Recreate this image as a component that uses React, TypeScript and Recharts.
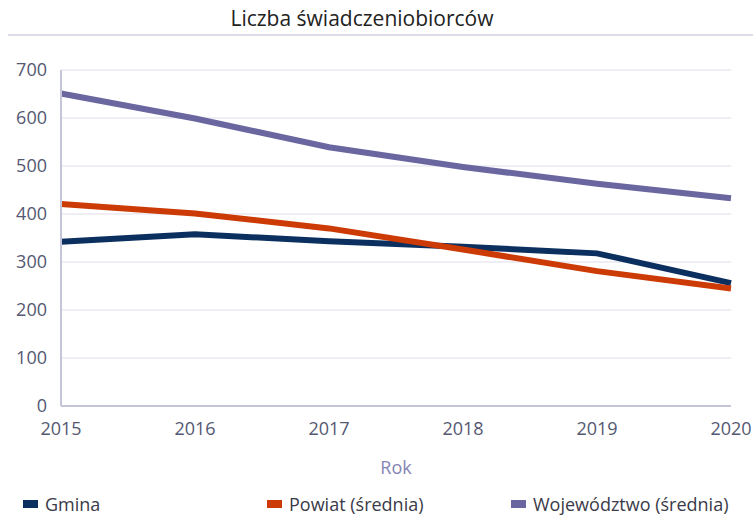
import React from "react";
import { LineChart, Line, XAxis, YAxis, CartesianGrid } from "recharts";

const years = ["2015", "2016", "2017", "2018", "2019", "2020"];
const gmina = [342, 358, 343, 332, 318, 256];
const powiat = [421, 401, 370, 326, 281, 245];
const wojewodztwo = [651, 599, 539, 498, 463, 433];
const yTicks = [0, 100, 200, 300, 400, 500, 600, 700];

const seriesNames = ["Gmina", "Powiat (średnia)", "Województwo (średnia)"];
const colors = ["#0b2f5e", "#cc3a06", "#6a66a0"];
const keys = ["gmina", "powiat", "wojewodztwo"];
const legendX = [23, 267, 511];

const data = years.map((y, i) => ({
  year: y,
  gmina: gmina[i],
  powiat: powiat[i],
  wojewodztwo: wojewodztwo[i],
}));

const FONT = "'Open Sans', 'DejaVu Sans', sans-serif";

export default function App() {
  return (
    <div style={{ position: "absolute", left: 0, top: 0, width: 753, height: 520, background: "#fff", fontFamily: FONT }}>
      <div style={{ position: "absolute", left: 362 - 200, width: 400, top: 4, textAlign: "center", fontSize: 21, color: "#222", whiteSpace: "nowrap" }}>
        Liczba świadczeniobiorców
      </div>
      <div style={{ position: "absolute", left: 8, top: 34, width: 745, height: 2, background: "#dcdce6" }} />
      <LineChart width={753} height={520} data={data} margin={{ top: 70, right: 22, left: 0, bottom: 74 }}>
        <CartesianGrid vertical={false} stroke="#e9e9f1" strokeWidth={1.5} />
        <XAxis
          dataKey="year"
          height={40}
          tickLine={false}
          tickSize={0}
          tickMargin={16}
          axisLine={{ stroke: "#c5c5d9", strokeWidth: 2 }}
          tick={{ fill: "#555872", fontSize: 18, fontFamily: FONT }}
          interval={0}
          label={{ value: "Rok", position: "insideBottom", offset: -28, fill: "#8585b5", fontSize: 18, fontFamily: FONT }}
        />
        <YAxis
          width={61}
          domain={[0, 700]}
          ticks={yTicks}
          tickLine={false}
          tickSize={0}
          tickMargin={14}
          axisLine={{ stroke: "#c5c5d9", strokeWidth: 2 }}
          tick={{ fill: "#555872", fontSize: 18, fontFamily: FONT }}
        />
        {keys.map((k, i) => (
          <Line
            key={k}
            type="linear"
            dataKey={k}
            name={seriesNames[i]}
            stroke={colors[i]}
            strokeWidth={6}
            dot={false}
            activeDot={false}
            isAnimationActive={false}
          />
        ))}
      </LineChart>
      {seriesNames.map((n, i) => (
        <div key={n} style={{ position: "absolute", left: legendX[i], top: 492, display: "flex", alignItems: "center", fontSize: 18, color: "#3a3a48", whiteSpace: "nowrap" }}>
          <span style={{ display: "inline-block", width: 15, height: 8, background: colors[i], marginRight: 7 }} />
          <span>{n}</span>
        </div>
      ))}
    </div>
  );
}
